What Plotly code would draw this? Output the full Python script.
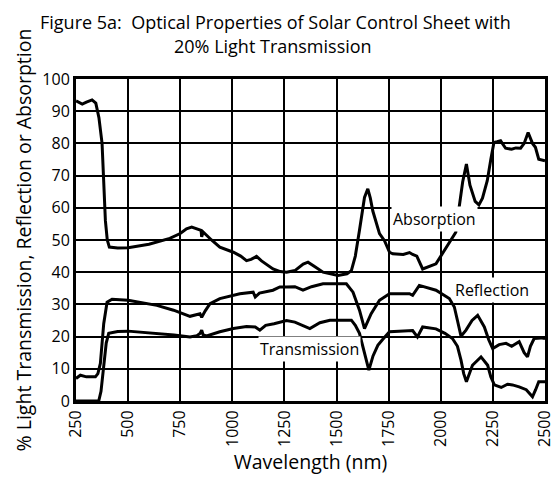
import plotly.graph_objects as go

# Data (wavelength in nm, value in %)
abs_wl = [250, 280, 300, 327, 345, 360, 375, 391, 400, 410, 450, 500, 600, 700, 750, 780, 805, 830, 850, 853, 860, 900, 940,
          1005, 1040, 1068, 1090, 1116, 1140, 1195, 1230, 1260, 1300, 1340, 1363, 1400, 1435, 1507, 1550, 1571, 1590, 1610,
          1634, 1650, 1662, 1674, 1706, 1730, 1754, 1770, 1820, 1850, 1865, 1885, 1913, 1977, 2008, 2040, 2056, 2072, 2088,
          2105, 2123, 2140, 2165, 2183, 2200, 2223, 2240, 2255, 2270, 2287, 2311, 2340, 2360, 2383, 2400, 2419, 2440, 2454,
          2470, 2500]
abs_val = [93.2, 92.2, 92.8, 93.5, 92.5, 88, 80, 56, 50, 47.8, 47.5, 47.6, 48.7, 50.5, 52, 53.5, 54, 53.5, 53, 51, 52.5, 50, 47.8,
           46.2, 45, 43.6, 44, 44.9, 43.5, 41, 40.2, 40, 40.5, 42.5, 43.1, 41.5, 40, 39, 39.5, 40.5, 45, 53,
           63.2, 65.9, 63, 59, 52, 49.8, 46.2, 45.7, 45.5, 46.1, 45.5, 45, 41, 42.6, 45.7, 49, 50.9, 52.4, 60.1,
           68, 73.6, 67, 62, 60.9, 63, 68.4, 75, 80.3, 80.5, 80.8, 78.5, 78.2, 78.6, 78.5, 80, 83.4, 80, 78.8,
           75.1, 74.6]

ref_wl = [250, 271, 300, 343, 355, 367, 383, 399, 423, 500, 638, 718, 797, 830, 845, 853, 870, 893, 940, 1036, 1100, 1110,
          1130, 1195, 1228, 1260, 1300, 1339, 1380, 1435, 1547, 1579, 1610, 1634, 1666, 1706, 1754, 1850, 1865, 1897, 1977,
          2041, 2065, 2080, 2097, 2121, 2150, 2177, 2209, 2230, 2249, 2280, 2313, 2340, 2376, 2400, 2416, 2430, 2448, 2480, 2500]
ref_val = [7, 8, 7.5, 7.5, 8.5, 11.7, 24, 30.7, 31.6, 31.3, 29.7, 28.2, 26.3, 26.8, 27.1, 26, 28, 30.2, 31.8, 33.3, 33.8, 32.3,
           33.5, 34.4, 35.4, 35.4, 35.5, 34.4, 35.5, 36.4, 36.4, 33.8, 28.2, 22.5, 27.1, 31.3, 33.3, 33.3, 32.8, 35.9, 34.4,
           31.8, 29.2, 25, 20.1, 22, 25, 26.6, 23, 19, 16.3, 17.5, 17.9, 17, 18.4, 15, 13.7, 17, 19.4, 19.6, 19.4]

tra_wl = [250, 340, 359, 370, 383, 395, 407, 450, 500, 638, 720, 797, 830, 845, 853, 860, 877, 940, 1005, 1068, 1110, 1132,
          1160, 1200, 1260, 1300, 1340, 1372, 1420, 1468, 1571, 1590, 1610, 1630, 1655, 1675, 1698, 1720, 1754, 1800, 1865,
          1888, 1913, 1977, 2020, 2056, 2080, 2097, 2110, 2123, 2152, 2193, 2225, 2240, 2257, 2290, 2320, 2344, 2376, 2410,
          2440, 2455, 2470, 2500]
tra_val = [0, 0, 0, 3, 11.7, 18, 21, 21.6, 21.7, 21, 20.5, 19.9, 20.3, 21, 22, 20.5, 20.2, 21.5, 22.5, 23.1, 23, 22,
           23.5, 24, 25, 24.5, 23.5, 22.5, 24.3, 25.1, 25.1, 23.5, 21, 16, 9.6, 14, 17.3, 19, 21.5, 21.7, 21.9,
           19.9, 23, 22.4, 21, 19.4, 17, 12.7, 8.5, 6, 11.1, 13.7, 11.1, 7.5, 5, 4.2, 5.2, 5, 4.4, 3.5,
           1.3, 3.5, 6, 6]

labels = ["Absorption", "Reflection", "Transmission"]
label_x = [1968, 2248, 1372]
label_y = [56.6, 34.4, 16.3]

title_lines = ["Figure 5a:  Optical Properties of Solar Control Sheet with", "20% Light Transmission"]

x_ticks = list(range(250, 2501, 250))
y_ticks = list(range(0, 101, 10))

FONT = "Open Sans, Lato, sans-serif"
W, H = 553, 477
ML, MR, MT, MB = 76, 7.5, 78.5, 76
PH = H - MT - MB
PW = W - ML - MR

fig = go.Figure()
for wl, val in [(abs_wl, abs_val), (ref_wl, ref_val), (tra_wl, tra_val)]:
    fig.add_trace(go.Scatter(x=wl, y=val, mode="lines",
                             line=dict(color="black", width=3), showlegend=False,
                             hoverinfo="skip"))

for t, x, y in zip(labels, label_x, label_y):
    fig.add_annotation(x=x, y=y, text=t, showarrow=False, bgcolor="white",
                       font=dict(family=FONT, size=16, color="black"), borderpad=1)

# title lines placed as paper annotations (page y of line centres: 21.5 and 45)
for t, px, py in zip(title_lines, [276, 273.5], [21.5, 45]):
    fig.add_annotation(xref="paper", yref="paper", x=(px - ML) / PW, y=1 + (MT - py) / PH,
                       text=t, showarrow=False, xanchor="center", yanchor="middle",
                       font=dict(family=FONT, size=18, color="black"))

fig.update_layout(
    width=W, height=H, autosize=False,
    margin=dict(l=ML, r=MR, t=MT, b=MB, autoexpand=False),
    paper_bgcolor="white", plot_bgcolor="white",
    font=dict(family=FONT, color="black", size=16),
)
fig.update_xaxes(range=[250, 2500], tickvals=x_ticks, ticktext=[str(v) for v in x_ticks],
                 tickangle=-90, showgrid=True, gridcolor="black", gridwidth=2,
                 showline=True, linecolor="black", linewidth=3, mirror=True,
                 ticks="", zeroline=False, ticklabeloverflow="allow",
                 title=dict(text="Wavelength (nm)", font=dict(family=FONT, size=19.5), standoff=10),
                 tickfont=dict(family=FONT, size=16))
fig.update_yaxes(range=[0, 100], tickvals=y_ticks, showgrid=True, gridcolor="black", gridwidth=2,
                 showline=True, linecolor="black", linewidth=3, mirror=True,
                 ticks="", zeroline=False, ticklabeloverflow="allow",
                 title=dict(text="% Light Transmission, Reflection or Absorption",
                            font=dict(family=FONT, size=19.5), standoff=6),
                 tickfont=dict(family=FONT, size=16))

fig.write_html("out.html", config={"displayModeBar": False},
               post_script="document.body.style.margin='0';document.body.style.overflow='hidden';"
                           "document.documentElement.style.overflow='hidden';")
